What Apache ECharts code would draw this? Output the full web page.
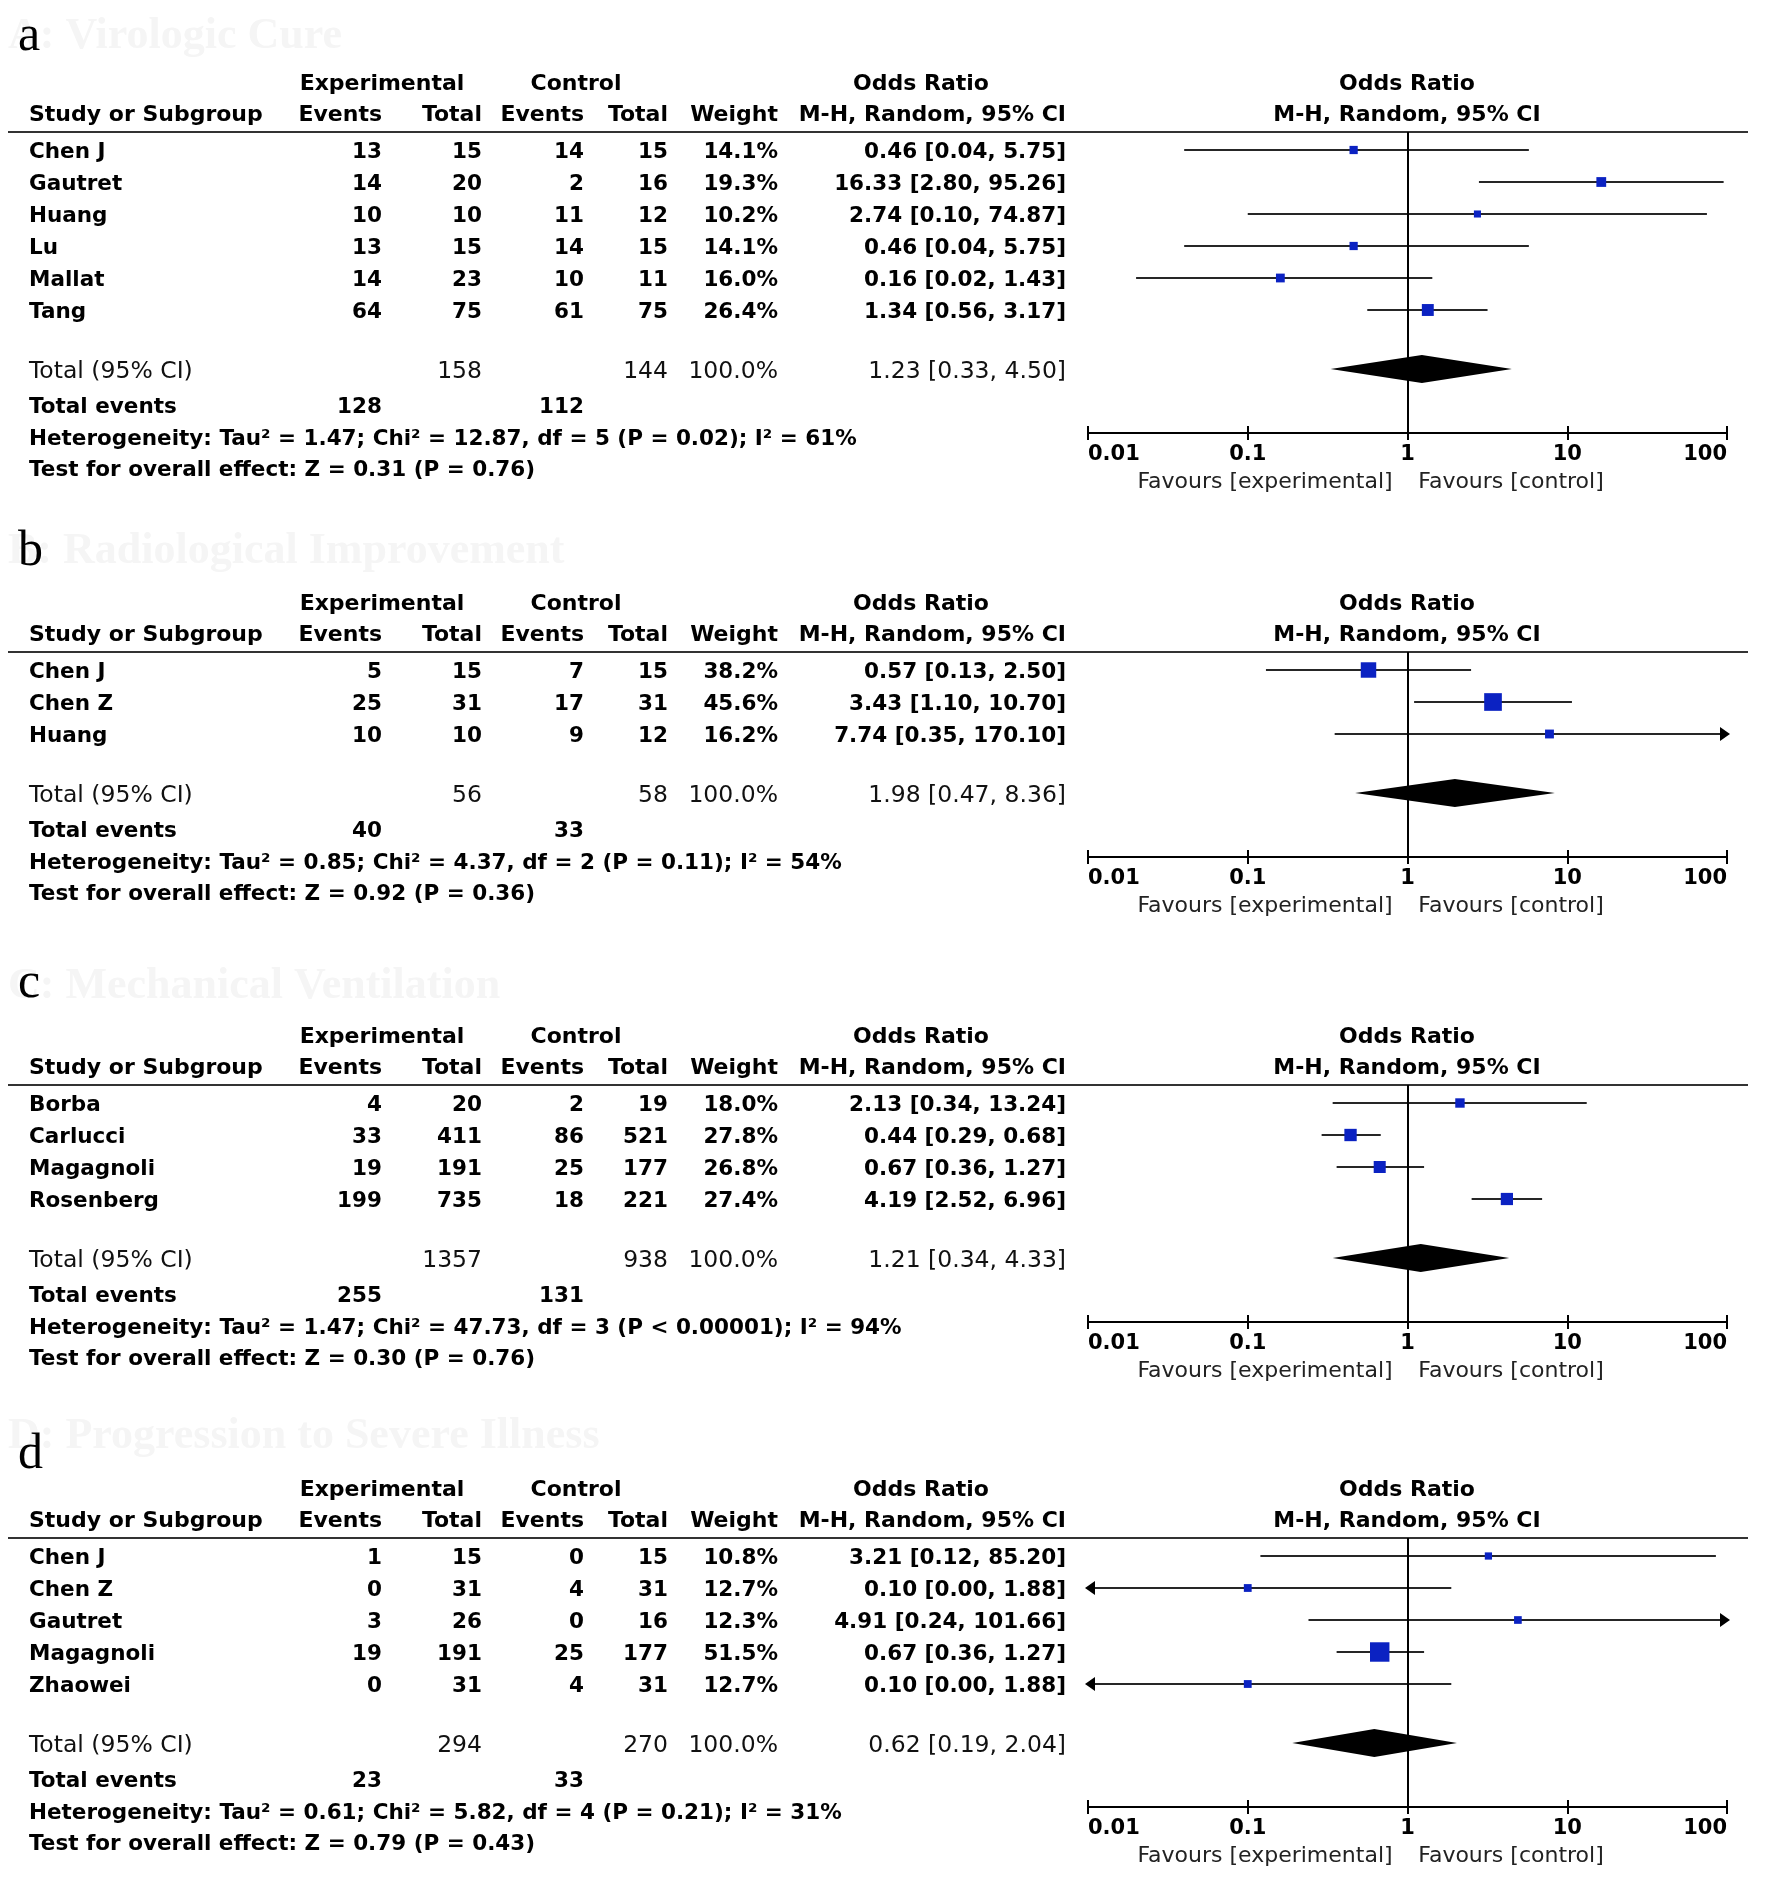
<!DOCTYPE html>
<html><head><meta charset="utf-8">
<script src="https://cdn.jsdelivr.net/npm/echarts@6/dist/echarts.min.js"></script>
<style>html,body{margin:0;padding:0;background:#fff}#chart{width:1772px;height:1890px}</style>
</head><body><div id="chart"></div>
<script>
// ---------------- DATA ----------------
const panelLetters = ['a', 'b', 'c', 'd'];
const panelTitles = ['A: Virologic Cure', 'B: Radiological Improvement', 'C: Mechanical Ventilation', 'D: Progression to Severe Illness'];
const tickLabels = ['0.01', '0.1', '1', '10', '100'];

// a – Virologic Cure
const studiesA = ['Chen J', 'Gautret', 'Huang', 'Lu', 'Mallat', 'Tang'];
const expEventsA = [13, 14, 10, 13, 14, 64];
const expTotalA = [15, 20, 10, 15, 23, 75];
const ctrlEventsA = [14, 2, 11, 14, 10, 61];
const ctrlTotalA = [15, 16, 12, 15, 11, 75];
const weightA = [14.1, 19.3, 10.2, 14.1, 16.0, 26.4];
const orA = [0.46, 16.33, 2.74, 0.46, 0.16, 1.34];
const lowA = [0.04, 2.80, 0.10, 0.04, 0.02, 0.56];
const highA = [5.75, 95.26, 74.87, 5.75, 1.43, 3.17];
const totalsA = [158, 144, 128, 112];
const pooledA = [1.23, 0.33, 4.50];
const hetA = 'Heterogeneity: Tau² = 1.47; Chi² = 12.87, df = 5 (P = 0.02); I² = 61%';
const testA = 'Test for overall effect: Z = 0.31 (P = 0.76)';

// b – Radiological Improvement
const studiesB = ['Chen J', 'Chen Z', 'Huang'];
const expEventsB = [5, 25, 10];
const expTotalB = [15, 31, 10];
const ctrlEventsB = [7, 17, 9];
const ctrlTotalB = [15, 31, 12];
const weightB = [38.2, 45.6, 16.2];
const orB = [0.57, 3.43, 7.74];
const lowB = [0.13, 1.10, 0.35];
const highB = [2.50, 10.70, 170.10];
const totalsB = [56, 58, 40, 33];
const pooledB = [1.98, 0.47, 8.36];
const hetB = 'Heterogeneity: Tau² = 0.85; Chi² = 4.37, df = 2 (P = 0.11); I² = 54%';
const testB = 'Test for overall effect: Z = 0.92 (P = 0.36)';

// c – Mechanical Ventilation
const studiesC = ['Borba', 'Carlucci', 'Magagnoli', 'Rosenberg'];
const expEventsC = [4, 33, 19, 199];
const expTotalC = [20, 411, 191, 735];
const ctrlEventsC = [2, 86, 25, 18];
const ctrlTotalC = [19, 521, 177, 221];
const weightC = [18.0, 27.8, 26.8, 27.4];
const orC = [2.13, 0.44, 0.67, 4.19];
const lowC = [0.34, 0.29, 0.36, 2.52];
const highC = [13.24, 0.68, 1.27, 6.96];
const totalsC = [1357, 938, 255, 131];
const pooledC = [1.21, 0.34, 4.33];
const hetC = 'Heterogeneity: Tau² = 1.47; Chi² = 47.73, df = 3 (P < 0.00001); I² = 94%';
const testC = 'Test for overall effect: Z = 0.30 (P = 0.76)';

// d – Progression to Severe Illness
const studiesD = ['Chen J', 'Chen Z', 'Gautret', 'Magagnoli', 'Zhaowei'];
const expEventsD = [1, 0, 3, 19, 0];
const expTotalD = [15, 31, 26, 191, 31];
const ctrlEventsD = [0, 4, 0, 25, 4];
const ctrlTotalD = [15, 31, 16, 177, 31];
const weightD = [10.8, 12.7, 12.3, 51.5, 12.7];
const orD = [3.21, 0.10, 4.91, 0.67, 0.10];
const lowD = [0.12, 0.00, 0.24, 0.36, 0.00];
const highD = [85.20, 1.88, 101.66, 1.27, 1.88];
const totalsD = [294, 270, 23, 33];
const pooledD = [0.62, 0.19, 2.04];
const hetD = 'Heterogeneity: Tau² = 0.61; Chi² = 5.82, df = 4 (P = 0.21); I² = 31%';
const testD = 'Test for overall effect: Z = 0.79 (P = 0.43)';

const panels = [
  [studiesA, expEventsA, expTotalA, ctrlEventsA, ctrlTotalA, weightA, orA, lowA, highA, totalsA, pooledA, hetA, testA],
  [studiesB, expEventsB, expTotalB, ctrlEventsB, ctrlTotalB, weightB, orB, lowB, highB, totalsB, pooledB, hetB, testB],
  [studiesC, expEventsC, expTotalC, ctrlEventsC, ctrlTotalC, weightC, orC, lowC, highC, totalsC, pooledC, hetC, testC],
  [studiesD, expEventsD, expTotalD, ctrlEventsD, ctrlTotalD, weightD, orD, lowD, highD, totalsD, pooledD, hetD, testD]
];

// ---------------- LAYOUT ----------------
const AX_MIN = 0.01, AX_MAX = 100;
const panelTop = [82, 602, 1035, 1488];
const letterBase = [50, 565, 997, 1468];
const ghostY = [37, 552, 987, 1437];
const ROWSTEP = 32;
const TY = 2.5; // text baseline nudge
const FONT = '"DejaVu Sans", Verdana, sans-serif';
const FH = 'bold 22px ' + FONT;
const FB = 'bold 21.5px ' + FONT;
const FN = '23.5px ' + FONT;
const FF = '22px ' + FONT;
const colX = { study: 29, expEv: 382, expTot: 482, ctlEv: 584, ctlTot: 668, weight: 778, ci: 1066,
  expHead: 382, ctlHead: 576, orHead: 921, plotHead: 1407, fExp: 1265, fCtl: 1511 };
const PLOT_LEFT = 1088, PLOT_W = 639;

function txt(text, x, y, align, font, fill) {
  return { type: 'text', x: x, y: y + TY, silent: true, z: 10,
    style: { text: String(text), font: font, fill: fill || '#000', align: align, verticalAlign: 'middle',
      textAlign: align, textVerticalAlign: 'middle' } };
}
const fmt2 = v => v.toFixed(2);
const ciText = (o, l, h) => fmt2(o) + ' [' + fmt2(l) + ', ' + fmt2(h) + ']';

const graphics = [];
const grids = [], xAxes = [], yAxes = [], series = [];

function arrow(p, dir) {
  return { type: 'polygon', shape: { points: [[p[0] + dir * 3, p[1]], [p[0] - dir * 7, p[1] - 7], [p[0] - dir * 7, p[1] + 7]] },
    style: { fill: '#000' } };
}
function renderStudy(params, api) {
  const est = api.value(0), lo = api.value(1), hi = api.value(2), w = api.value(3), yv = api.value(4);
  const a = api.coord([Math.max(lo, AX_MIN), yv]);
  const b = api.coord([Math.min(hi, AX_MAX), yv]);
  const c = api.coord([est, yv]);
  const s = 4 + 0.3 * w;
  const children = [{ type: 'line', shape: { x1: a[0], y1: a[1], x2: b[0], y2: b[1] }, style: { stroke: '#262626', lineWidth: 2.2 } }];
  if (lo < AX_MIN) children.push(arrow(a, -1));
  if (hi > AX_MAX) children.push(arrow(b, 1));
  children.push({ type: 'rect', shape: { x: c[0] - s / 2, y: c[1] - s / 2, width: s, height: s }, style: { fill: '#0b22c2' } });
  return { type: 'group', children: children };
}
function renderDiamond(params, api) {
  const est = api.value(0), lo = api.value(1), hi = api.value(2), yv = api.value(3);
  const l = api.coord([lo, yv]), r = api.coord([hi, yv]), c = api.coord([est, yv]);
  return { type: 'polygon', shape: { points: [[l[0], l[1]], [c[0], c[1] - 14], [r[0], r[1]], [c[0], c[1] + 14]] },
    style: { fill: '#000' } };
}

panels.forEach(function (P, k) {
  const [studies, eE, eT, cE, cT, wt, or, lo, hi, totals, pooled, het, test] = P;
  const n = studies.length;
  const o = panelTop[k];
  const h2 = o + 31, hline = o + 50;
  const rowY = i => o + 68 + ROWSTEP * i;
  const totY = rowY(n - 1) + 59, evY = totY + 36, hetY = evY + 32, testY = hetY + 31;
  const axisY = hetY - 4;
  const gridH = axisY - hline;

  // panel letter and faint title
  graphics.push({ type: 'text', x: 8, y: ghostY[k], silent: true, z: 1,
    style: { text: panelTitles[k], font: 'bold 44px "Liberation Serif", serif', fill: '#f5f5f5', align: 'left', verticalAlign: 'middle' } });
  graphics.push({ type: 'text', x: 18, y: letterBase[k] + 12, silent: true, z: 2,
    style: { text: panelLetters[k], font: '50px "Liberation Serif", serif', fill: '#000', align: 'left', verticalAlign: 'bottom' } });

  // headers
  graphics.push(txt('Experimental', colX.expHead, o, 'center', FH));
  graphics.push(txt('Control', colX.ctlHead, o, 'center', FH));
  graphics.push(txt('Odds Ratio', colX.orHead, o, 'center', FH));
  graphics.push(txt('Odds Ratio', colX.plotHead, o, 'center', FH));
  graphics.push(txt('Study or Subgroup', colX.study, h2, 'left', FH));
  graphics.push(txt('Events', colX.expEv, h2, 'right', FH));
  graphics.push(txt('Total', colX.expTot, h2, 'right', FH));
  graphics.push(txt('Events', colX.ctlEv, h2, 'right', FH));
  graphics.push(txt('Total', colX.ctlTot, h2, 'right', FH));
  graphics.push(txt('Weight', colX.weight, h2, 'right', FH));
  graphics.push(txt('M-H, Random, 95% CI', colX.ci, h2, 'right', FH));
  graphics.push(txt('M-H, Random, 95% CI', colX.plotHead, h2, 'center', FH));
  graphics.push({ type: 'line', silent: true, z: 5, shape: { x1: 8, y1: hline, x2: 1748, y2: hline },
    style: { stroke: '#333', lineWidth: 2 } });

  // study rows
  for (let i = 0; i < n; i++) {
    const y = rowY(i);
    graphics.push(txt(studies[i], colX.study, y, 'left', FB));
    graphics.push(txt(eE[i], colX.expEv, y, 'right', FB));
    graphics.push(txt(eT[i], colX.expTot, y, 'right', FB));
    graphics.push(txt(cE[i], colX.ctlEv, y, 'right', FB));
    graphics.push(txt(cT[i], colX.ctlTot, y, 'right', FB));
    graphics.push(txt(wt[i].toFixed(1) + '%', colX.weight, y, 'right', FB));
    graphics.push(txt(ciText(or[i], lo[i], hi[i]), colX.ci, y, 'right', FB));
  }
  // total rows
  graphics.push(txt('Total (95% CI)', colX.study, totY, 'left', FN, '#111'));
  graphics.push(txt(totals[0], colX.expTot, totY, 'right', FN, '#111'));
  graphics.push(txt(totals[1], colX.ctlTot, totY, 'right', FN, '#111'));
  graphics.push(txt('100.0%', colX.weight, totY, 'right', FN, '#111'));
  graphics.push(txt(ciText(pooled[0], pooled[1], pooled[2]), colX.ci, totY, 'right', FN, '#111'));
  graphics.push(txt('Total events', colX.study, evY, 'left', FB));
  graphics.push(txt(totals[2], colX.expEv, evY, 'right', FB));
  graphics.push(txt(totals[3], colX.ctlEv, evY, 'right', FB));
  graphics.push(txt(het, colX.study, hetY, 'left', FB));
  graphics.push(txt(test, colX.study, testY, 'left', FB));
  graphics.push(txt('Favours [experimental]', colX.fExp, axisY + 47, 'center', FF, '#222'));
  graphics.push(txt('Favours [control]', colX.fCtl, axisY + 47, 'center', FF, '#222'));

  // forest plot coordinate system
  grids.push({ left: PLOT_LEFT, top: hline, width: PLOT_W, height: gridH, containLabel: false });
  const axisBase = {
    type: 'log', logBase: 10, min: AX_MIN, max: AX_MAX, splitNumber: 4, gridIndex: k, position: 'bottom',
    splitLine: { show: false }, minorTick: { show: false }, minorSplitLine: { show: false }
  };
  xAxes.push(Object.assign({}, axisBase, {
    axisLine: { show: true, onZero: false, lineStyle: { color: '#000', width: 2 } },
    axisTick: { show: true, inside: false, length: 7, lineStyle: { color: '#000', width: 2 } },
    axisLabel: { show: true, margin: 11, color: '#000', fontFamily: FONT, fontWeight: 'bold', fontSize: 21,
      alignMinLabel: 'left', alignMaxLabel: 'right',
      formatter: v => tickLabels[Math.round(Math.log10(v)) + 2] }
  }));
  xAxes.push(Object.assign({}, axisBase, {
    axisLine: { show: false, onZero: false },
    axisTick: { show: true, inside: true, length: 7, lineStyle: { color: '#000', width: 2 } },
    axisLabel: { show: false }
  }));
  yAxes.push({ type: 'value', gridIndex: k, inverse: true, min: 0, max: gridH / ROWSTEP, show: false });

  const row0 = 18 / ROWSTEP;
  const studyData = studies.map((s, i) => [or[i], lo[i], hi[i], wt[i], row0 + i]);
  series.push({
    type: 'custom', name: 'studies' + k, xAxisIndex: 2 * k, yAxisIndex: k, renderItem: renderStudy,
    data: studyData, encode: { x: 0, y: 4 }, z: 3, silent: true,
    markLine: { silent: true, symbol: 'none', label: { show: false }, animation: false,
      lineStyle: { color: '#000', width: 2, type: 'solid' }, data: [{ xAxis: 1 }] }
  });
  series.push({
    type: 'custom', name: 'pooled' + k, xAxisIndex: 2 * k, yAxisIndex: k, renderItem: renderDiamond,
    data: [[pooled[0], pooled[1], pooled[2], row0 + (n - 1) + 59 / ROWSTEP]], encode: { x: 0, y: 3 }, z: 4, silent: true
  });
});

const chart = echarts.init(document.getElementById('chart'), null, { renderer: 'canvas' });
chart.setOption({
  backgroundColor: '#fff',
  animation: false,
  grid: grids,
  xAxis: xAxes,
  yAxis: yAxes,
  series: series,
  graphic: { elements: graphics }
});
</script></body></html>
